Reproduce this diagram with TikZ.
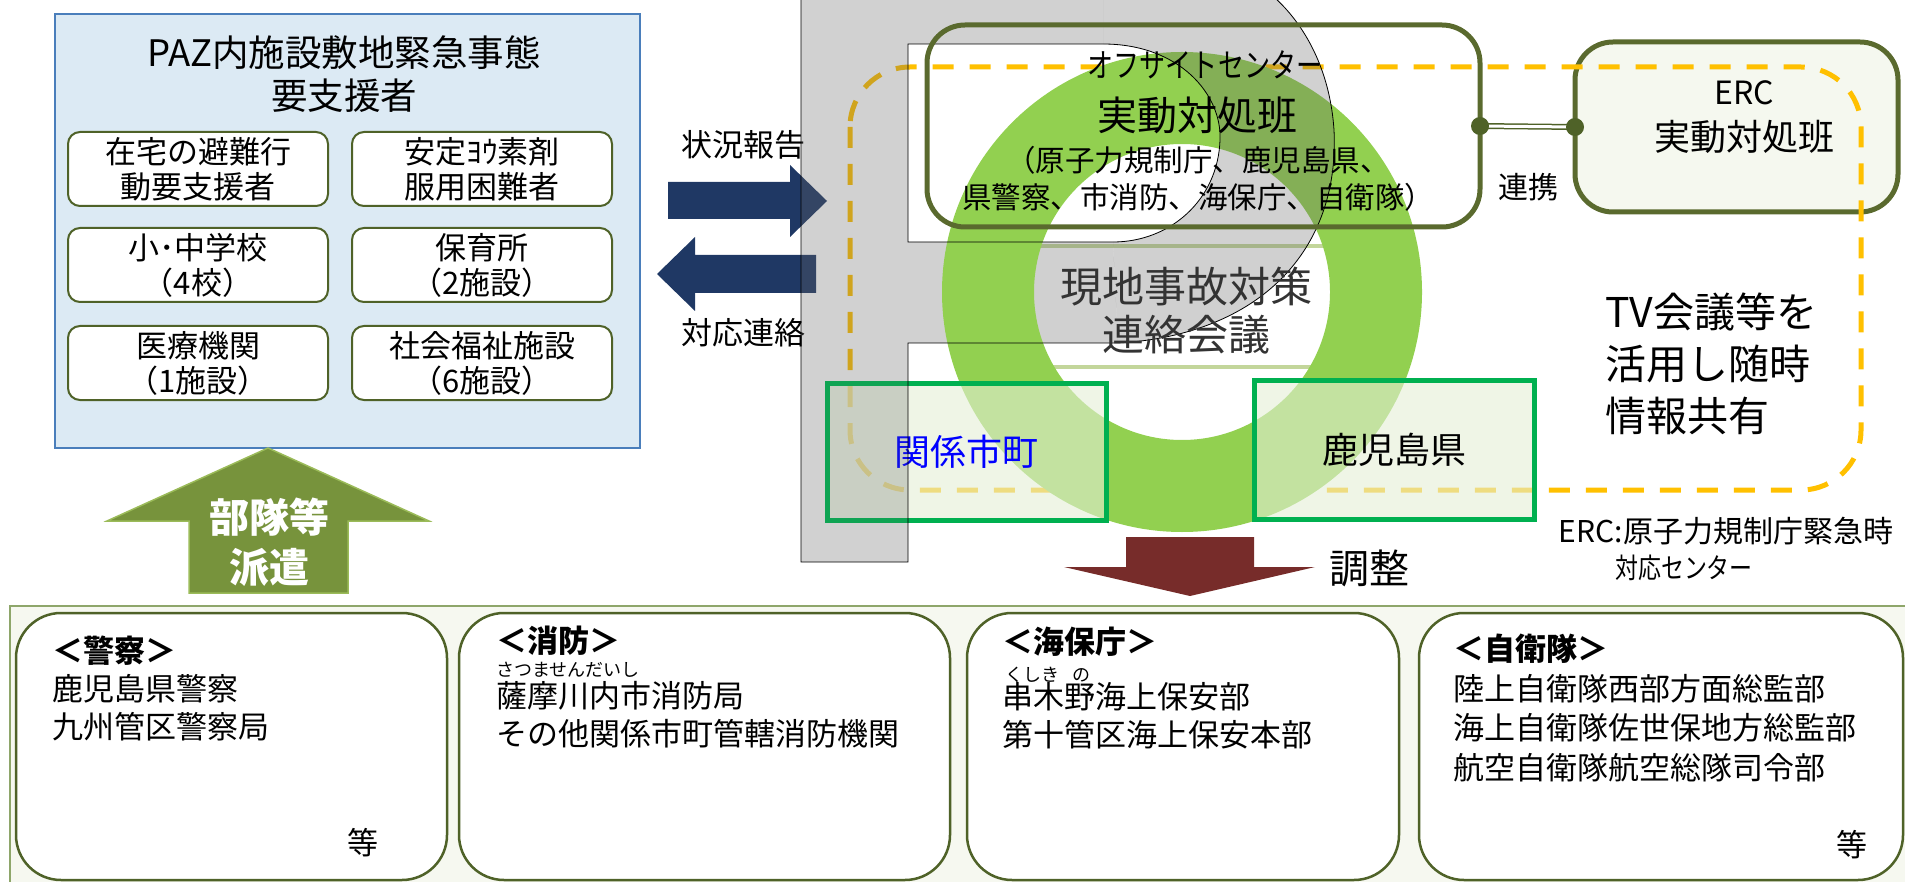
\documentclass[tikz,border=0pt]{standalone}
\usepackage{fontspec}
\usepackage{graphicx}
\setmainfont{Noto Sans CJK JP}
\usetikzlibrary{positioning}

\definecolor{pazfill}{HTML}{DCEAF4}
\definecolor{pazline}{HTML}{4A7EBB}
\definecolor{oliveline}{HTML}{4F6228}
\definecolor{ofcline}{HTML}{5A6A2E}
\definecolor{ercfill}{HTML}{F5F8EF}
\definecolor{armygreen}{HTML}{77933C}
\definecolor{armyedge}{HTML}{9BBB59}
\definecolor{navyblue}{HTML}{1F3864}
\definecolor{adjred}{HTML}{772C2A}
\definecolor{ringgreen}{HTML}{92D050}
\definecolor{boxgreen}{HTML}{00B050}
\definecolor{boxfill}{HTML}{E4EFD6}
\definecolor{dashyellow}{HTML}{FFC000}
\definecolor{palegreen}{HTML}{C3D69B}
\definecolor{bandfill}{HTML}{F6F8F0}
\definecolor{bandline}{HTML}{8EA66A}

\begin{document}
\begin{tikzpicture}[x=1pt, y=-1pt]
  \tikzstyle{pbox}=[draw=oliveline, line width=2pt, fill=white, rounded corners=12pt, minimum width=260pt, minimum height=74pt, inner sep=0, align=center, font=\fontsize{31}{35}\selectfont]
  \tikzstyle{unit}=[draw=oliveline, line width=2.5pt, fill=white, rounded corners=45pt, minimum height=267pt, inner sep=0]
  \tikzstyle{list}=[anchor=north west, inner sep=0, align=left, font=\fontsize{31}{38}\selectfont]
  \tikzstyle{ruby}=[anchor=west, inner sep=0, font=\fontsize{18}{20}\selectfont]
  \tikzstyle{area}=[draw=boxgreen, line width=5pt, fill=boxfill, fill opacity=.6, text opacity=1, minimum width=279pt, minimum height=137pt, font=\fontsize{36}{40}\selectfont]
  \tikzstyle{team}=[draw=ofcline, line width=5pt, rounded corners=38pt, inner sep=0, outer sep=0]
  \tikzstyle{lbl}=[inner sep=0]
  \tikzstyle{pgrey}=[black!60, fill opacity=.3]

  \useasboundingbox (0,0) rectangle (1905,882);

  % bottom band with the four organisations
  \node[draw=bandline, line width=1.5pt, fill=bandfill, minimum width=1900pt, minimum height=290pt, inner sep=0] (BAND) at (960,751) {};
  \node[unit, minimum width=431pt] (B-1) at (231.5,746.5) {};
  \node[unit, minimum width=491pt] (B-2) at (704.5,746.5) {};
  \node[unit, minimum width=432pt] (B-3) at (1183,746.5) {};
  \node[unit, minimum width=484pt] (B-4) at (1661,746.5) {};

  \node[list] (L-1) at (52,636) {\textbf{＜警察＞}\\鹿児島県警察\\九州管区警察局};
  \node[list] (L-2) at (496,626) {\textbf{＜消防＞}\\[17pt]薩摩川内市消防局\\その他関係市町管轄消防機関};
  \node[ruby] (R-2) at (496,670) {さつませんだいし};
  \node[list] (L-3) at (1002,627) {\textbf{＜海保庁＞}\\[17pt]串木野海上保安部\\第十管区海上保安本部};
  \node[ruby] (R-3) at (1005,675) {くしき\hspace{13pt}の};
  \node[list, font=\fontsize{31}{39.5}\selectfont] (L-4) at (1453,634) {\textbf{＜自衛隊＞}\\陸上自衛隊西部方面総監部\\海上自衛隊佐世保地方総監部\\航空自衛隊航空総隊司令部};
  \node[lbl, font=\fontsize{31}{35}\selectfont] (E-1) at (363,843) {等};
  \node[lbl, font=\fontsize{31}{35}\selectfont] (E-4) at (1852,845) {等};

  % PAZ
  \node[draw=pazline, line width=2.5pt, fill=pazfill, minimum width=585pt, minimum height=434pt] (PAZ) at (347.5,231) {};
  \node[lbl, align=center, font=\fontsize{36.5}{43}\selectfont] (PAZ-T) at (344,74) {PAZ内施設敷地緊急事態\\要支援者};
  \node[pbox] (P-1) at (198,169) {在宅の避難行\\動要支援者};
  \node[pbox, right = 22pt of P-1] (P-2) {安定ﾖｳ素剤\\服用困難者};
  \node[pbox, below = 20pt of P-1] (P-3) {小･中学校\\（4校）};
  \node[pbox, right = 22pt of P-3] (P-4) {保育所\\（2施設）};
  \node[pbox, below = 22pt of P-3] (P-5) {医療機関\\（1施設）};
  \node[pbox, right = 22pt of P-5] (P-6) {社会福祉施設\\（6施設）};

  \filldraw[fill=armygreen, draw=armyedge, line width=1.5pt] (268,448) -- (429,521) -- (348,521) -- (348,593) -- (189,593) -- (189,521) -- (107,521) -- cycle;
  \node[lbl, align=center, text=white, font=\fontsize{40}{50}\selectfont\bfseries] (SEND) at (269,542) {部隊等\\派遣};

  % report / contact
  \fill[navyblue] (668,182) -- (790,182) -- (790,165) -- (827,201) -- (790,237) -- (790,219) -- (668,219) -- cycle;
  \fill[navyblue] (657,274) -- (695,237) -- (695,255) -- (816,255) -- (816,293) -- (695,293) -- (695,311) -- cycle;
  \node[lbl, font=\fontsize{31}{35}\selectfont] (REP) at (743,145) {状況報告};
  \node[lbl, font=\fontsize{31}{35}\selectfont] (CON) at (743,333) {対応連絡};

  % ERC, TV link, ring
  \node[team, fill=ercfill, minimum width=323pt, minimum height=170pt] (ERC) at (1736.5,127) {};
  \node[draw=palegreen, line width=4pt, fill=white, minimum width=330pt, minimum height=121pt] (CONF) at (1185,306.5) {};
  \draw[dashyellow, line width=5pt, dash pattern=on 21pt off 16pt, rounded corners=60pt] (850,67) rectangle (1861,490);

  % grey P (bowl part added after the ring)
  \fill[pgrey, even odd rule]
    (801,-3) -- (801,562) -- (908,562) -- (908,343) -- (1118,343)
      .. controls (1260,335) and (1340,250) .. (1334,130)
      .. controls (1330,70) and (1305,25) .. (1274,-3) -- cycle
    (908,44) -- (1103,44) .. controls (1180,44) and (1222,95) .. (1220,140)
      .. controls (1218,200) and (1170,242) .. (1113,242) -- (908,242) -- cycle
    (1103,-3) -- (1274,-3) .. controls (1305,25) and (1330,70) .. (1334,130)
      .. controls (1340,250) and (1260,335) .. (1118,343) -- (1113,242)
      .. controls (1170,242) and (1218,200) .. (1220,140)
      .. controls (1222,95) and (1180,44) .. (1103,44) -- cycle;

  \fill[ringgreen, even odd rule] (1182,292) circle (240) (1182,292) circle (148);

  \node[area, text=blue] (CITY) at (966.5,451.5) {関係市町};
  \node[area, minimum width=280pt, minimum height=139pt] (PREF) at (1394,449.5) {鹿児島県};

  \fill[pgrey, fill opacity=.15] (824.5,380.5) rectangle (908,522.5);
  \fill[pgrey]
    (1103,-3) -- (1274,-3) .. controls (1305,25) and (1330,70) .. (1334,130)
      .. controls (1340,250) and (1260,335) .. (1118,343) -- (1113,242)
      .. controls (1170,242) and (1218,200) .. (1220,140)
      .. controls (1222,95) and (1180,44) .. (1103,44) -- cycle;
  \draw[black, line width=.8pt]
    (801,-3) -- (801,562) -- (908,562) -- (908,343) -- (1118,343)
      .. controls (1260,335) and (1340,250) .. (1334,130)
      .. controls (1330,70) and (1305,25) .. (1274,-3)
    (908,44) -- (1103,44) .. controls (1180,44) and (1222,95) .. (1220,140)
      .. controls (1218,200) and (1170,242) .. (1113,242) -- (908,242) -- cycle;

  \node[team, minimum width=553pt, minimum height=202pt] (OFC) at (1203.5,126) {};
  \draw[oliveline, line width=1.5pt, double=white, double distance=3pt] (OFC.east) -- (ERC.west);
  \fill[oliveline] (OFC.east) circle (9) (ERC.west) circle (9);

  \node[lbl, align=center, text=black!80, font=\fontsize{42}{48}\selectfont] (CONF-T) at (1186,311) {現地事故対策\\連絡会議};
  \node[lbl, font=\fontsize{33}{36}\selectfont] (OFC-1) at (1205,65) {\scalebox{.79}[1]{オフサイトセンター}};
  \node[lbl, font=\fontsize{40}{44}\selectfont] (OFC-2) at (1197,115) {実動対処班};
  \node[lbl, align=center, font=\fontsize{29.5}{37}\selectfont] (OFC-3) at (1198,178.5) {（原子力規制庁、鹿児島県、\\県警察、市消防、海保庁、自衛隊）};
  \node[lbl, font=\fontsize{32}{36}\selectfont] (ERC-1) at (1744,93) {ERC};
  \node[lbl, font=\fontsize{36}{40}\selectfont] (ERC-2) at (1744,137) {実動対処班};
  \node[lbl, font=\fontsize{30}{32}\selectfont] (LINK) at (1528,187) {連携};
  \node[lbl, anchor=north west, align=left, font=\fontsize{41}{52}\selectfont] (TV) at (1605,293) {TV会議等を\\活用し随時\\情報共有};
  \node[lbl, font=\fontsize{30}{34}\selectfont] (NOTE-1) at (1726,531) {ERC:原子力規制庁緊急時};
  \node[lbl, font=\fontsize{28}{30}\selectfont] (NOTE-2) at (1684,568) {\scalebox{.82}[1]{対応センター}};

  % coordination
  \fill[adjred] (1126,537) -- (1254,537) -- (1254,567) -- (1315,567) -- (1190,596) -- (1064,567) -- (1126,567) -- cycle;
  \node[lbl, font=\fontsize{40}{44}\selectfont] (ADJ) at (1369,568) {調整};
\end{tikzpicture}
\end{document}
